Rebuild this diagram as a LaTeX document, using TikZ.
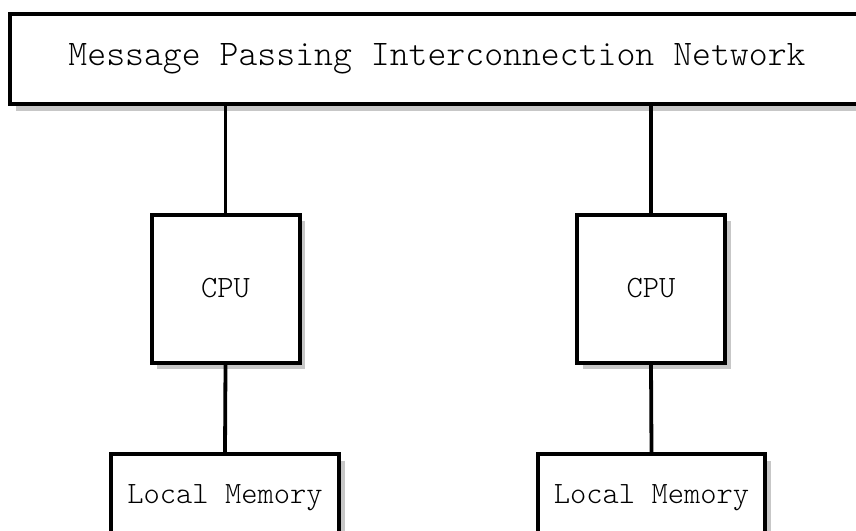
\documentclass[tikz,border=0pt]{standalone}
\usepackage{fontspec}
\setmonofont{Latin Modern Mono Light}
\usetikzlibrary{shadows}
\tikzset{
  unit/.style={draw=black, line width=4pt, fill=white, inner sep=0pt,
    drop shadow={shadow xshift=5.5pt, shadow yshift=-6.5pt, fill=black!22, opacity=1},
    font=\ttfamily\fontsize{31}{34}\selectfont},
  wire/.style={line width=3.8pt},
}
\begin{document}
\begin{tikzpicture}[x=1pt, y=-1pt]
  \useasboundingbox (0,0) rectangle (856,530);
  \clip (0,0) rectangle (856,530);
  % interconnection network spanning the top
  \node[unit, minimum width=854pt, minimum height=90pt,
        font=\ttfamily\fontsize{36}{40}\selectfont] (net) at (437,59)
        {Message Passing Interconnection Network};
  % two processing nodes, each with its own memory
  \node[unit, minimum width=148pt, minimum height=148pt] (cpuA) at (225.5,288.5) {CPU};
  \node[unit, minimum width=148pt, minimum height=148pt] (cpuB) at (651,288.5) {CPU};
  \node[unit, minimum width=228pt, minimum height=88pt] (memA) at (225,498) {Local Memory};
  \node[unit, minimum width=227pt, minimum height=88pt] (memB) at (651.5,498) {Local Memory};
  % links
  \draw[wire] (cpuA.north) -- (cpuA.north |- net.south);
  \draw[wire] (cpuB.north) -- (cpuB.north |- net.south);
  \draw[wire] (cpuA.south) -- (memA.north);
  \draw[wire] (cpuB.south) -- (memB.north);
\end{tikzpicture}
\end{document}
